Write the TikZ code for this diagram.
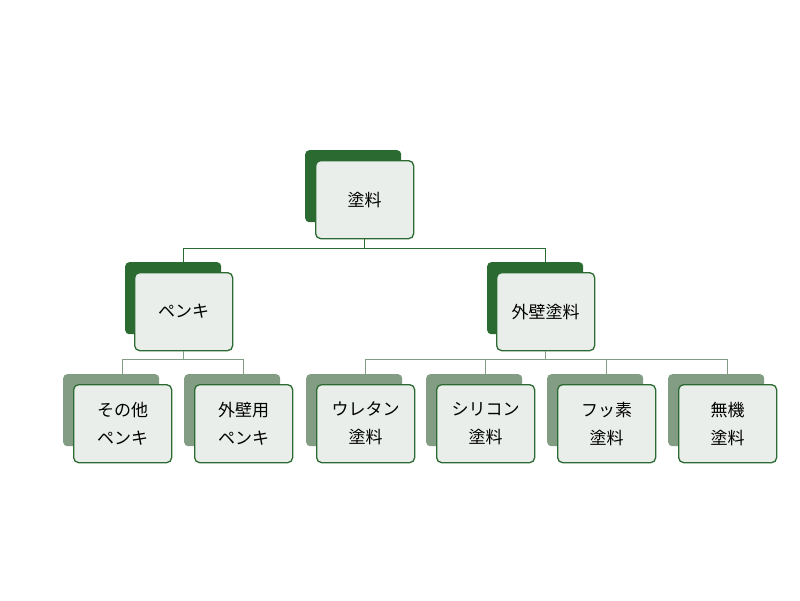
\documentclass[tikz,border=0pt]{standalone}
\usepackage{fontspec}
\setmainfont{Noto Sans CJK JP}
\usepackage{xcolor}
\definecolor{dkgreen}{HTML}{2B6B32}
\definecolor{gygreen}{HTML}{839C84}
\definecolor{boxfill}{HTML}{EAEEEA}
\tikzset{%
    back/.style={fill=#1, rounded corners=4pt, minimum width=96pt, minimum height=72pt, anchor=north west, inner sep=0pt},
    front/.style={draw=dkgreen, line width=1.3pt, fill=boxfill, rounded corners=5pt, minimum width=98pt, minimum height=78pt, anchor=north west, align=center, font=\fontsize{17pt}{28pt}\selectfont, inner sep=0pt},
    link/.style={draw=#1, line width=1.2pt}
}
\begin{document}
\begin{tikzpicture}[x=1pt,y=-1pt]
    \useasboundingbox (0,0) rectangle (800,600);
    % top level
    \node[back=dkgreen] (tb) at (305,150) {};
    \node[front] (top) at (315,160) {塗料};
    % second level
    \node[back=dkgreen] (pb) at (125,262) {};
    \node[front] (pk) at (134,272) {ペンキ};
    \node[back=dkgreen] (gb) at (487,262) {};
    \node[front] (gt) at (496,272) {外壁塗料};
    % third level
    \foreach \x/\n/\t in {63/a/{その他\\ペンキ},184/b/{外壁用\\ペンキ},306/c/{ウレタン\\塗料},426/d/{シリコン\\塗料},547/e/{フッ素\\塗料},668/f/{無機\\塗料}}
    {
    \node[back=gygreen] (\n b) at (\x,374) {};
    \node[front] (\n) at (\x+10,384) {\t};
    }
    % connectors
    \draw[link=dkgreen] (top.south) -- ++(0,9) -| (pk.north);
    \draw[link=dkgreen] (top.south) ++(0,9) -| (gt.north);
    \draw[link=gygreen] (pk.south) -- ++(0,8) -| (a.north);
    \draw[link=gygreen] (pk.south) ++(0,8) -| (b.north);
    \foreach \n in {c,d,e,f}
    {
    \draw[link=gygreen] (gt.south) -- ++(0,8) -| (\n.north);
    }
\end{tikzpicture}
\end{document}
